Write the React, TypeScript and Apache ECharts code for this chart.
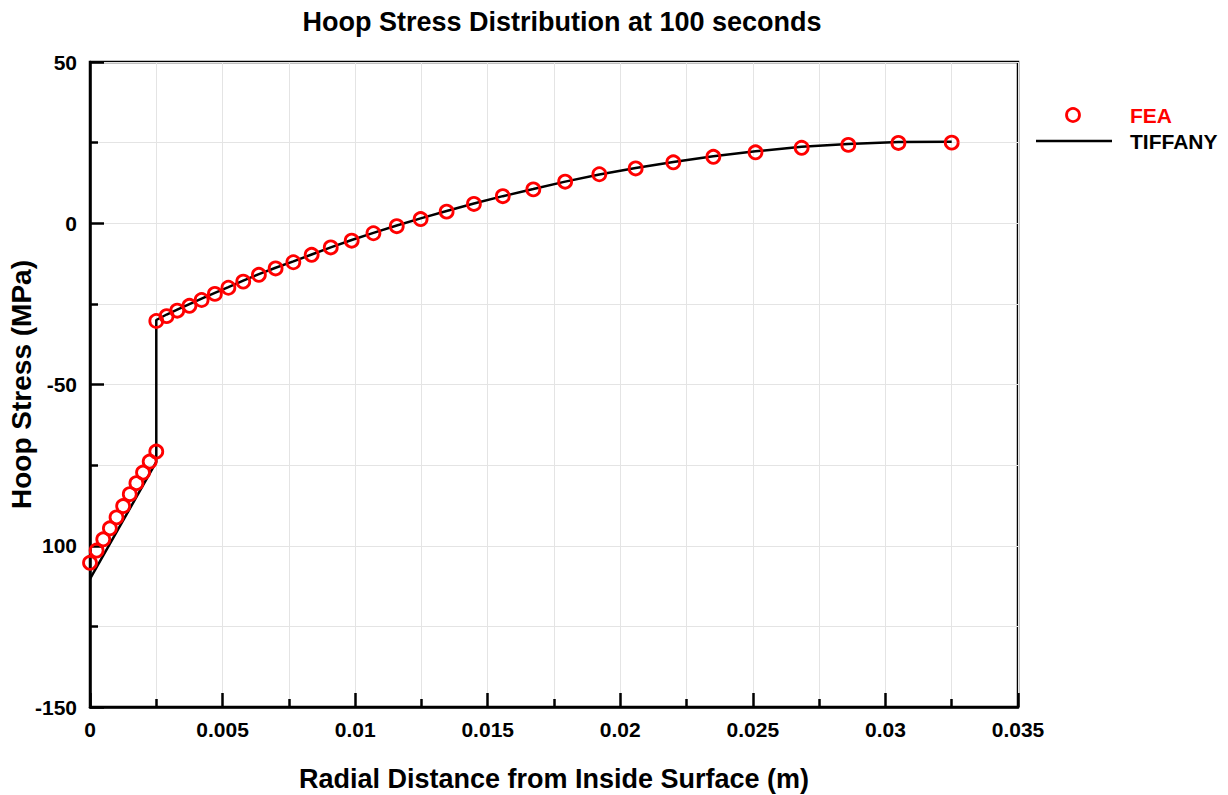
import React, { useEffect, useRef } from "react";
import * as echarts from "echarts";

const titleText = "Hoop Stress Distribution at 100 seconds";
const xName = "Radial Distance from Inside Surface (m)";
const yName = "Hoop Stress (MPa)";

// FEA results (inner layer + outer layer)
const feaX = [
  0, 0.00025, 0.0005, 0.00075, 0.001, 0.00125, 0.0015, 0.00175, 0.002, 0.00225, 0.0025,
  0.0025, 0.00289, 0.00329, 0.00375, 0.00421, 0.00471, 0.00522, 0.00578, 0.00637, 0.007,
  0.00767, 0.00836, 0.00908, 0.00987, 0.01069, 0.01157, 0.01247, 0.01345, 0.01448, 0.01557,
  0.01672, 0.01792, 0.01921, 0.02058, 0.022, 0.02351, 0.0251, 0.02684, 0.0286, 0.03049, 0.0325,
];
const feaY = [
  -105.3, -101.5, -98.0, -94.6, -91.2, -87.7, -84.0, -80.6, -77.3, -73.9, -70.8,
  -30.3, -28.8, -27.1, -25.6, -23.8, -21.9, -20.0, -18.1, -16.0, -14.0,
  -12.1, -9.8, -7.5, -5.4, -3.1, -0.9, 1.3, 3.6, 6.0, 8.4,
  10.5, 12.9, 15.2, 17.0, 18.9, 20.6, 22.0, 23.4, 24.3, 24.9, 25.0,
];

// TIFFANY analytical solution
const tiffanyX = [
  0, 0.0025, 0.0025, 0.00289, 0.00329, 0.00375, 0.00421, 0.00471, 0.00522, 0.00578, 0.00637,
  0.007, 0.00767, 0.00836, 0.00908, 0.00987, 0.01069, 0.01157, 0.01247, 0.01345, 0.01448,
  0.01557, 0.01672, 0.01792, 0.01921, 0.02058, 0.022, 0.02351, 0.0251, 0.02684, 0.0286,
  0.03049, 0.0325,
];
const tiffanyY = [
  -110.3, -74.0, -30.0, -28.3, -26.8, -25.1, -23.4, -21.6, -19.8, -17.8, -15.8,
  -13.8, -11.8, -9.7, -7.5, -5.2, -3.0, -0.7, 1.5, 3.8, 6.1,
  8.4, 10.6, 12.9, 15.1, 17.1, 19.0, 20.8, 22.3, 23.7, 24.6,
  25.2, 25.3,
];

const legendNames = ["FEA", "TIFFANY"];

const FONT = "'Liberation Sans', Arial, sans-serif";

function fmtX(v: number): string {
  return String(parseFloat(v.toFixed(4)));
}

export default function App() {
  const ref = useRef<HTMLDivElement>(null);
  useEffect(() => {
    if (!ref.current) return;
    const chart = echarts.init(ref.current, null, { renderer: "svg" });
    const axisLabelStyle = { color: "#000", fontFamily: FONT, fontWeight: "bold" as const, fontSize: 21 };
    chart.setOption({
      animation: false,
      backgroundColor: "#fff",
      title: {
        text: titleText,
        left: 557,
        top: 3,
        textAlign: "center",
        textStyle: { fontFamily: FONT, fontWeight: "bold", fontSize: 27, color: "#000" },
      },
      grid: {
        left: 90,
        top: 62,
        right: 210,
        bottom: 88,
        show: true,
        borderColor: "#000",
        borderWidth: 2.5,
        backgroundColor: "transparent",
        containLabel: false,
        outerBoundsMode: "none",
      },
      xAxis: {
        type: "value",
        min: 0,
        max: 0.035,
        interval: 0.005,
        name: xName,
        nameLocation: "middle",
        nameGap: 58,
        nameMoveOverlap: false,
        nameTextStyle: { fontFamily: FONT, fontWeight: "bold", fontSize: 27, color: "#000" },
        axisLine: { show: true, onZero: false, lineStyle: { color: "#000", width: 2.5 } },
        axisTick: { show: true, inside: true, length: 14, lineStyle: { color: "#000", width: 2.5 } },
        minorTick: { show: true, splitNumber: 2, length: 8, lineStyle: { color: "#000", width: 2.5 } },
        splitLine: { show: true, lineStyle: { color: "#e4e4e4", width: 1 } },
        minorSplitLine: { show: true, lineStyle: { color: "#e4e4e4", width: 1 } },
        axisLabel: { ...axisLabelStyle, margin: 12, formatter: (v: number) => fmtX(v) },
      },
      yAxis: {
        type: "value",
        min: -150,
        max: 50,
        interval: 50,
        name: yName,
        nameLocation: "middle",
        nameGap: 55,
        nameMoveOverlap: false,
        nameTextStyle: { fontFamily: FONT, fontWeight: "bold", fontSize: 28, color: "#000" },
        axisLine: { show: true, onZero: false, lineStyle: { color: "#000", width: 2.5 } },
        axisTick: { show: true, inside: true, length: 14, lineStyle: { color: "#000", width: 2.5 } },
        minorTick: { show: true, splitNumber: 2, length: 8, lineStyle: { color: "#000", width: 2.5 } },
        splitLine: { show: true, lineStyle: { color: "#e4e4e4", width: 1 } },
        minorSplitLine: { show: true, lineStyle: { color: "#e4e4e4", width: 1 } },
        axisLabel: {
          ...axisLabelStyle,
          margin: 13,
          formatter: (v: number) => (v === -100 ? "100" : String(v)),
        },
      },
      series: [
        {
          name: legendNames[1],
          type: "line",
          data: tiffanyX.map((x, i) => [x, tiffanyY[i]]),
          showSymbol: false,
          symbol: "none",
          lineStyle: { color: "#000", width: 2.5 },
          z: 2,
        },
        {
          name: legendNames[0],
          type: "scatter",
          data: feaX.map((x, i) => [x, feaY[i]]),
          symbol: "circle",
          symbolSize: 13,
          itemStyle: { color: "transparent", borderColor: "#ff0000", borderWidth: 2.8, opacity: 1 },
          z: 3,
        },
      ],
      graphic: [
        {
          type: "circle",
          shape: { cx: 1073, cy: 115, r: 6.5 },
          style: { fill: "none", stroke: "#ff0000", lineWidth: 2.8 },
        },
        {
          type: "text",
          x: 1130,
          y: 115,
          style: {
            text: legendNames[0],
            fill: "#ff0000",
            font: `bold 21px ${FONT}`,
            verticalAlign: "middle",
            align: "left",
          },
        },
        {
          type: "line",
          shape: { x1: 1036, y1: 141, x2: 1112, y2: 141 },
          style: { stroke: "#000", lineWidth: 2.5 },
        },
        {
          type: "text",
          x: 1130,
          y: 141,
          style: {
            text: legendNames[1],
            fill: "#000",
            font: `bold 21px ${FONT}`,
            verticalAlign: "middle",
            align: "left",
          },
        },
      ],
    });
    return () => chart.dispose();
  }, []);
  return (
    <div
      ref={ref}
      style={{ position: "absolute", left: 0, top: 0, width: 1228, height: 795, background: "#fff" }}
    />
  );
}
